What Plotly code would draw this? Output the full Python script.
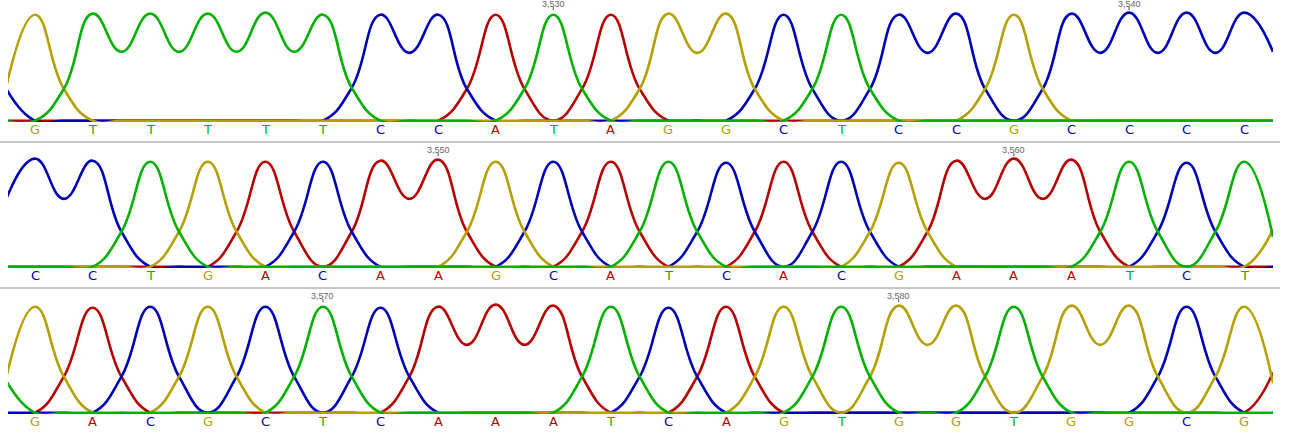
import plotly.graph_objects as go

# called bases per row and the position of the first base in each row
row_seq = [
    list("GTTTTTCCATAGGCTCCGCCCC"),
    list("CCTGACAAGCATCACGAAATCT"),
    list("GACGCTCAAATCAGTGGTGGCG"),
]
row_start = [3521, 3543, 3565]

# trace heights sampled every half base: x = -0.5, then (base, following midpoint) pairs
row1_A = [0, 0,0, 0,0, 0,0, 0,0, 0,0, 0,0, 0,0, 0,30, 100,30, 0,30, 100,30, 0,0,
          0,0, 0,0, 0,0, 0,0, 0,0, 0,0, 0,0, 0,0, 0,0, 0,0]
row1_C = [30, 0,0, 0,0, 0,0, 0,0, 0,0, 0,31, 100,64, 100,30, 0,0, 0,0, 0,0, 0,0,
          0,30, 100,30, 0,30, 100,64, 101,30, 0,30, 101,64, 102,64, 102,64, 102,65]
row1_G = [32, 100,30, 0,0, 0,0, 0,0, 0,0, 0,0, 0,0, 0,0, 0,0, 0,0, 0,30, 101,64,
          101,30, 0,0, 0,0, 0,0, 0,30, 100,30, 0,0, 0,0, 0,0, 0,0]
row1_T = [0, 0,30, 101,65, 101,65, 101,65, 102,65, 100,31, 0,0, 0,0, 0,30, 100,30,
          0,0, 0,0, 0,0, 0,30, 100,30, 0,0, 0,0, 0,0, 0,0, 0,0, 0,0, 0,0]

row2_A = [0, 0,0, 0,0, 0,0, 0,33, 99,33, 0,33, 100,64, 101,33, 0,0, 0,33, 99,33,
          0,0, 0,33, 99,33, 0,0, 0,33, 100,64, 102,64, 101,33, 0,0, 0,0, 0,0]
row2_C = [64, 102,64, 100,33, 0,0, 0,0, 0,33, 99,33, 0,0, 0,0, 0,33, 99,33, 0,0,
          0,33, 98,33, 0,33, 99,33, 0,0, 0,0, 0,0, 0,0, 0,33, 98,33, 0,0]
row2_G = [0, 0,0, 0,0, 0,33, 99,33, 0,0, 0,0, 0,0, 0,33, 99,33, 0,0, 0,0, 0,0,
          0,0, 0,0, 0,33, 98,33, 0,0, 0,0, 0,0, 0,0, 0,0, 0,35]
row2_T = [0, 0,0, 0,33, 99,33, 0,0, 0,0, 0,0, 0,0, 0,0, 0,0, 0,0, 0,33, 99,33,
          0,0, 0,0, 0,0, 0,0, 0,0, 0,0, 0,33, 99,33, 0,33, 99,28]

row3_A = [0, 0,34, 99,34, 0,0, 0,0, 0,0, 0,0, 0,34, 100,64, 102,64, 101,34, 0,0,
          0,34, 100,34, 0,0, 0,0, 0,0, 0,0, 0,0, 0,0, 0,0, 0,0, 0,38]
row3_C = [0, 0,0, 0,34, 100,34, 0,34, 100,34, 0,34, 99,34, 0,0, 0,0, 0,0, 0,34,
          99,34, 0,0, 0,0, 0,0, 0,0, 0,0, 0,0, 0,0, 0,34, 100,34, 0,0]
row3_G = [33, 100,34, 0,0, 0,34, 100,34, 0,0, 0,0, 0,0, 0,0, 0,0, 0,0, 0,0, 0,0,
          0,34, 100,34, 0,34, 101,64, 101,34, 0,34, 101,64, 101,34, 0,34, 100,28]
row3_T = [30, 0,0, 0,0, 0,0, 0,0, 0,34, 100,34, 0,0, 0,0, 0,0, 0,34, 100,34, 0,0,
          0,0, 0,34, 100,34, 0,0, 0,34, 100,34, 0,0, 0,0, 0,0, 0,0]

traces = [
    {"A": row1_A, "C": row1_C, "G": row1_G, "T": row1_T},
    {"A": row2_A, "C": row2_C, "G": row2_G, "T": row2_T},
    {"A": row3_A, "C": row3_C, "G": row3_G, "T": row3_T},
]

colors = {"A": "#b40000", "C": "#0000b4", "G": "#b4a000", "T": "#00b000"}

W, H = 1300, 433
baseline_px = [120.7, 266.7, 412.7]
unit_px = 1.06
lw = 2.6
y_lo, y_hi = -lw / 2 / unit_px, 106   # clip just under the baseline stroke
x_lo, x_hi = -0.47, 21.5

n = len(row_seq[0])
grid = [-0.5 + 0.5 * k for k in range(2 * n + 1)]

fig = go.Figure()
layout = {}
for r in range(3):
    sfx = "" if r == 0 else str(r + 1)
    b = baseline_px[r]
    top = b - y_hi * unit_px
    bot = b - y_lo * unit_px
    layout["yaxis" + sfx] = dict(domain=[1 - bot / H, 1 - top / H], range=[y_lo, y_hi],
                                 visible=False, fixedrange=True, anchor="x" + sfx)
    layout["xaxis" + sfx] = dict(domain=[8 / W, 1273 / W], range=[x_lo, x_hi],
                                 visible=False, fixedrange=True, anchor="y" + sfx)

    for ch in ["A", "C", "G", "T"]:
        vals = traces[r][ch]
        assert len(vals) == len(grid), (r, ch, len(vals))
        fig.add_trace(go.Scatter(
            x=grid, y=vals, mode="lines", hoverinfo="skip", showlegend=False,
            line=dict(color=colors[ch], width=lw, shape="spline", smoothing=1.3),
            xaxis="x" + sfx, yaxis="y" + sfx))

    # base calls under the traces
    for i, s in enumerate(row_seq[r]):
        fig.add_annotation(x=i, xref="x" + sfx, y=1 - (b + 8.3) / H, yref="paper",
                           text=s, showarrow=False, yanchor="middle",
                           font=dict(family="DejaVu Sans", size=13, color=colors[s]))

    # position markers every 10 bases
    for i in range(n):
        pos = row_start[r] + i
        if pos % 10 == 0:
            fig.add_shape(type="line", xref="x" + sfx, yref="paper",
                          x0=i, x1=i, y0=1 - (b - 110.5) / H, y1=1 - (b - 113.8) / H,
                          line=dict(color="#555555", width=1))
            fig.add_annotation(x=i, xref="x" + sfx, y=1 - (b - 116.5) / H, yref="paper",
                               text=f"{pos:,}", showarrow=False, yanchor="middle",
                               font=dict(family="Liberation Sans", size=9, color="#666666"))

# separators between rows
for ypx in [142, 288]:
    fig.add_shape(type="line", xref="paper", yref="paper",
                  x0=0, x1=1280 / W, y0=1 - ypx / H, y1=1 - ypx / H,
                  line=dict(color="#8c8c8c", width=1.2))

fig.update_layout(width=W, height=H, margin=dict(l=0, r=0, t=0, b=0),
                  paper_bgcolor="white", plot_bgcolor="white", **layout)
fig.write_html("out.html", config={"displayModeBar": False},
               post_script="document.body.style.margin='0';")
